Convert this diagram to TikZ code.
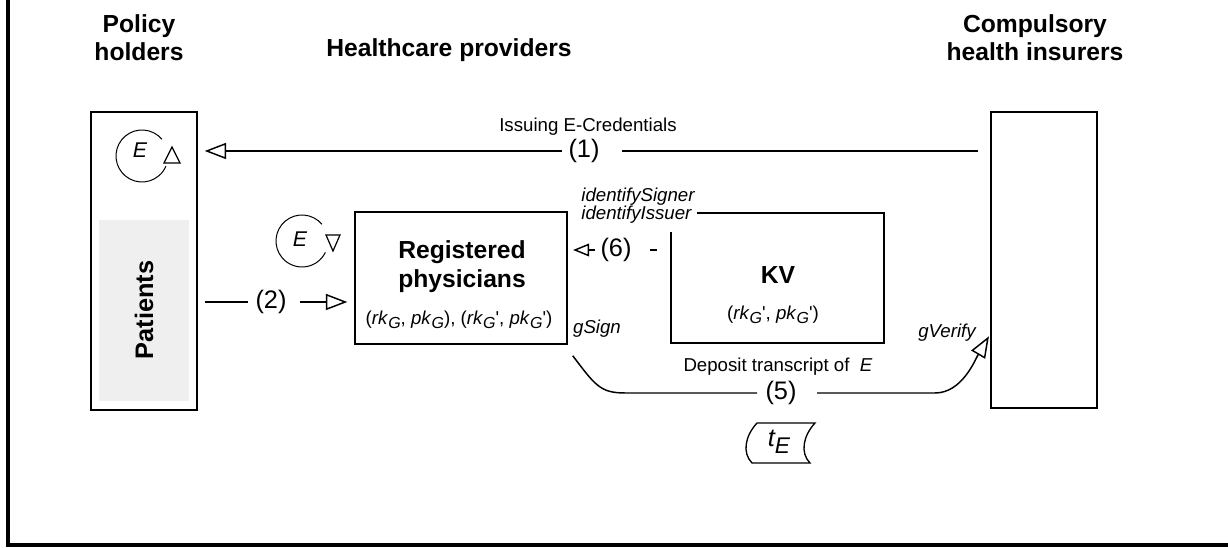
\documentclass[tikz,border=0pt]{standalone}
\usepackage{fontspec}
\setmainfont{Liberation Sans}
\usetikzlibrary{arrows.meta,calc}
\definecolor{patientgrey}{HTML}{EFEFEF}
% lowered subscript in the style of the key pairs
\newcommand\lowsub[1]{\raisebox{-3pt}{\fontsize{12}{12}\selectfont #1}}
\newcommand\keyG{\textit{rk}\lowsub{\textit{G}}}
\newcommand\keyP{\textit{pk}\lowsub{\textit{G}}}
\begin{document}
\begin{tikzpicture}[x=0.75pt,y=0.75pt,
  box/.style={draw, line width=1.1pt, inner sep=0pt},
  link/.style={line width=1.1pt},
  openhead/.style={-{Triangle[open,length=16pt,width=12pt]}},
  smallhead/.style={-{Triangle[open,length=12pt,width=9.5pt]}},
  heading/.style={font=\fontsize{18.5}{21}\selectfont\bfseries, align=center, inner sep=0pt},
  numlbl/.style={font=\fontsize{19}{22}\selectfont, inner sep=0pt},
  lbl/.style={font=\fontsize{14}{17}\selectfont, inner sep=0pt},
  fn/.style={font=\fontsize{14}{13.5}\selectfont\itshape},
  cyclearc/.style={line width=0.75pt},
  turnhead/.style={line width=0.9pt, fill=white, line join=miter}
]
\useasboundingbox (0,0) rectangle (1228,548);

% frame
\draw[line width=2.6pt, line join=miter] (8,548) -- (8,3) -- (1228,3);

% column headings
\node[heading] (hpol) at (139,510) {Policy\\holders};
\node[heading] (hhc)  at (449,498) {Healthcare providers};
\node[heading] (hins) at (1035,510) {Compulsory\\health insurers};

% policy holders
\node[box, minimum width=79.5pt, minimum height=223.5pt] (pol) at (144,287) {};
\node[fill=patientgrey, inner sep=0pt, minimum width=67.5pt, minimum height=135.75pt] (pgrey) at (144,237.5) {};
\node[rotate=90, font=\fontsize{19}{21}\selectfont\bfseries, inner sep=0pt] (pat) at (144,238) {Patients};

% compulsory health insurers
\node[box, minimum width=79.5pt, minimum height=222pt] (ins) at (1044,288) {};

% registered physicians
\node[box, minimum width=159pt, minimum height=99pt] (phy) at (461,270) {};
\node[heading, font=\fontsize{18.5}{22}\selectfont\bfseries] (phyname) at (462,281.5) {Registered\\physicians};
\node[lbl] (phykeys) at (459,228) {(\keyG, \keyP), (\keyG\textquotesingle, \keyP\textquotesingle)};

% KV
\node[box, minimum width=159.75pt, minimum height=97.5pt] (kv) at (777.5,270) {};
\node[heading] (kvname) at (778,273) {KV};
\node[lbl] (kvkeys) at (773,233) {(\keyG\textquotesingle, \keyP\textquotesingle)};
\node[fn, fill=white, align=left, inner xsep=2pt, inner ysep=6pt] (idlbl) at (638,342) {identifySigner\\identifyIssuer};

% E cycles
\node[font=\fontsize{16}{18}\selectfont\itshape, inner sep=0pt] (e1) at (140,398) {E};
\coordinate (e1c) at (142,392);
\draw[cyclearc] ([shift={(40:19.5pt)}]e1c) arc[start angle=40, end angle=337, radius=19.5pt];
\draw[turnhead] (164,385) -- (180,385) -- (172,401) -- cycle;

\node[font=\fontsize{16}{18}\selectfont\itshape, inner sep=0pt] (e2) at (300,309) {E};
\coordinate (e2c) at (302,307);
\draw[cyclearc] ([shift={(40:19.5pt)}]e2c) arc[start angle=40, end angle=334, radius=19.5pt];
\draw[turnhead] (326,313) -- (340,313) -- (333,297) -- cycle;

% (1) issuing e-credentials
\coordinate (c1L) at (562,397);
\coordinate (c1R) at (622,397);
\draw[link, shorten <=9pt] (ins.west |- c1R) -- (c1R);
\draw[link, openhead, shorten >=5.25pt] (c1L) -- (pol.east |- c1L);
\node[numlbl] (n1) at (584,397) {(1)};
\node[lbl] (l1) at (588,421) {Issuing E-Credentials};

% (2) patients visit physicians
\coordinate (c2L) at (248,246);
\coordinate (c2R) at (300,246);
\draw[link, shorten <=5.25pt] (pol.east |- c2L) -- (c2L);
\draw[link, openhead, shorten >=5.25pt] (c2R) -- (phy.west |- c2R);
\node[numlbl] (n2) at (271,246) {(2)};

% (6) identification by KV
\coordinate (c6L) at (595,298);
\coordinate (c6R) at (650,298);
\draw[link, shorten <=9.75pt] (kv.west |- c6R) -- (c6R);
\draw[link, smallhead, shorten >=4pt] (c6L) -- (phy.east |- c6L);
\node[numlbl] (n6) at (616,298) {(6)};

% (5) deposit transcript
\coordinate (s5) at ($(phy.south east)+(5,-11)$);
\coordinate (c5L) at (757,155);
\coordinate (c5R) at (817,155);
\coordinate (c5tip) at (988,214);
\draw[link] (s5) .. controls (595,163) and (600,155) .. (625,155) -- (c5L);
\draw[link, openhead, shorten >=2pt] (c5R) -- (935,155) .. controls (962,155) and (975,188) .. (ins.west |- c5tip);
\node[numlbl] (n5) at (781,155) {(5)};
\node[lbl] (l5) at (778,181) {Deposit transcript of \ \textit{E}};
\node[fn, inner sep=0pt] (gsign) at (597,219) {gSign};
\node[fn, inner sep=0pt] (gverify) at (947,215) {gVerify};

% transcript document
\node[inner sep=0pt, font=\fontsize{19}{21}\selectfont\itshape] (tE) at (779,106) {t\raisebox{-5pt}{\fontsize{17}{18}\selectfont E}};
\draw[line width=1pt] (757,125) -- (815,125) .. controls (803,112) and (800,95) .. (810,85)
  -- (752,85) .. controls (742,95) and (745,112) .. (757,125) -- cycle;
\end{tikzpicture}
\end{document}
